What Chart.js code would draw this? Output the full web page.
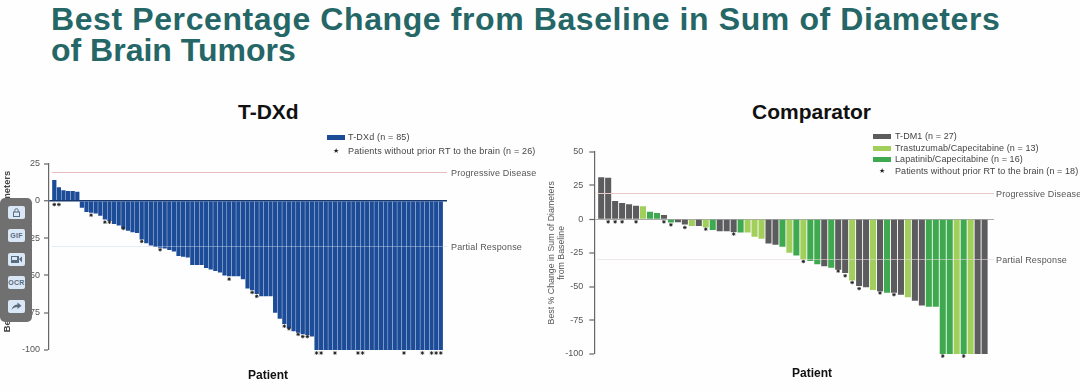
<!DOCTYPE html>
<html>
<head>
<meta charset="utf-8">
<script src="https://cdn.jsdelivr.net/npm/chart.js@4"></script>
<style>
html,body{margin:0;padding:0;background:#fefefe}
body{width:1080px;height:392px;position:relative;overflow:hidden;font-family:"Liberation Sans",Arial,sans-serif;filter:blur(.4px)}
canvas{position:absolute;top:90px}
#ch-tdxd{left:0}
#ch-comp{left:540px}
.abs{position:absolute;white-space:nowrap}
#title{left:51px;top:4px;font-size:32px;line-height:31px;font-weight:bold;color:#256767}
.panel{font-size:21px;font-weight:bold;color:#111;line-height:24px}
.patient{font-size:12px;font-weight:bold;color:#111;line-height:14px}
.leg{font-size:9px;line-height:12px;color:#444}
.sw{position:absolute;height:5px;width:18px}
.star{position:absolute;font-size:7px;line-height:12px;color:#222}
#tools{left:0;top:198px;width:32px;height:124px;background:#707070;border-radius:5px}
.btn{position:absolute;left:8px;width:17px;height:13px;background:#d9e7f6;border-radius:2px;font-size:7px;line-height:13px;font-weight:bold;text-align:center;color:#5a6c80;letter-spacing:.3px}
.btn svg{position:absolute;left:3px;top:2px}
</style>
</head>
<body>
<div class="abs" id="title"><span style="letter-spacing:.6px">Best Percentage Change from Baseline in Sum of Diameters</span><br>of Brain Tumors</div>
<div class="abs panel" style="left:238px;top:100px">T-DXd</div>
<div class="abs panel" style="left:752px;top:100px">Comparator</div>
<canvas id="ch-tdxd" width="540" height="302"></canvas>
<canvas id="ch-comp" width="540" height="302"></canvas>
<div class="abs patient" style="left:248px;top:368px">Patient</div>
<div class="abs patient" style="left:792px;top:366px">Patient</div>
<div id="legends"></div>
<div class="abs" id="tools">
  <div class="btn" style="top:8px"><svg width="11" height="9" viewBox="0 0 11 9"><rect x="2.5" y="4" width="6" height="4.5" fill="none" stroke="#5a6c80"/><path d="M3.8 4V2.4a1.7 1.7 0 0 1 3.4 0V4" fill="none" stroke="#5a6c80"/></svg></div>
  <div class="btn" style="top:31px">GIF</div>
  <div class="btn" style="top:55px"><svg width="11" height="9" viewBox="0 0 11 9"><rect x="0" y="1" width="8" height="7" fill="#5a6c80"/><path d="M8 4l3-2.5v6z" fill="#5a6c80"/><rect x="1" y="2" width="5" height="3" fill="#d9e7f6"/></svg></div>
  <div class="btn" style="top:78px">OCR</div>
  <div class="btn" style="top:102px"><svg width="11" height="9" viewBox="0 0 11 9"><path d="M6.5 0.5l4 3.2-4 3.2V5C4 5 2 5.800 0.500 8 1 5 3 2.600 6.500 2.400z" fill="#5a6c80"/></svg></div>
</div>
<script>
// T-DXd panel
const tdxdValues = [14,9,7,6.5,6.5,6,-4.7,-7.5,-8,-8.5,-10,-12.5,-13.5,-15.5,-16.5,-18.5,-20,-21,-21.5,-26,-28.5,-30,-31,-31.5,-32,-33,-34,-37,-37.5,-38,-43,-43,-43,-45,-46,-47,-48,-50,-50.5,-50.5,-50.5,-52.5,-58.7,-60,-62.5,-64,-64,-64,-75,-79,-82.5,-85.5,-87.5,-88.5,-89.5,-90,-91,-100,-100,-100,-100,-100,-100,-100,-100,-100,-100,-100,-100,-100,-100,-100,-100,-100,-100,-100,-100,-100,-100,-100,-100,-100,-100,-100,-100];
const tdxdStarPatients = [0,1,8,11,12,15,19,23,38,43,44,50,51,53,54,55,57,58,61,66,67,76,80,82,83,84];
const tdxdStarValues = [-2.5,-2.5,-9.6,-14.3,-14.3,-18.5,-27.2,-32.8,-52.5,-61.4,-64,-84,-85.7,-89.5,-91,-91,-102,-102,-102,-102,-102,-102,-102,-102,-102,-102];
const tdxdTicks = [25,0,-25,-50,-75,-100];
// leading nbsp pulls the title (mostly hidden behind the toolbar) up a little, like the slide
const tdxdYTitle = ['\u00a0\u00a0\u00a0\u00a0Best % Change in Sum of Diameters','from Baseline'];

// Comparator panel
const compValues = [31,30.6,13.5,12,11,10,9.5,5.5,4.5,3,-2.5,-2.3,-4,-5,-5,-6,-8,-9,-9,-9.5,-10,-10,-13,-14.5,-18,-19,-20.5,-25,-27,-30,-31,-33.5,-35,-36,-37.5,-40,-45.5,-49.5,-50.5,-52.5,-53.5,-54.5,-54.5,-56,-58,-60.5,-64,-65,-65,-100,-100,-100,-100,-100,-100,-100];
const compArms = ['t','t','t','t','t','t','c','l','l','t','l','t','t','c','t','c','l','t','t','t','l','c','c','c','t','t','l','c','l','c','l','l','t','l','t','t','c','t','t','c','t','l','t','t','c','t','t','l','l','l','l','c','l','c','t','t'];
const compStarPatients = [1,2,3,5,9,10,12,15,19,29,34,35,36,37,40,42,49,52];
const compStarValues = [-2,-2,-2,-2,-2,-4.2,-6.2,-7.4,-11,-31.4,-38.5,-42,-47,-51.5,-54.7,-56,-101.5,-101.5];
const compTicks = [50,25,0,-25,-50,-75,-100];
const compYTitle = ['Best % Change in Sum of Diameters','from Baseline'];

const armColors = {t:'#5c5c5e',c:'#a2cf5c',l:'#3fa950'};
const BLUE = '#1c4b98';

// progressive disease / partial response lines + their labels
const refLines = {
  id:'refLines',
  afterDatasetsDraw(chart,args,o){
    const {ctx,chartArea:a,scales:{y}} = chart;
    ctx.save();
    ctx.lineWidth = 1;
    o.lines.forEach(l=>{
      const py = Math.round(y.getPixelForValue(l.v))+.5;
      ctx.strokeStyle = l.c;
      ctx.beginPath(); ctx.moveTo(a.left+o.inset,py); ctx.lineTo(a.right,py); ctx.stroke();
      ctx.fillStyle = '#555';
      ctx.font = '9px "Liberation Sans"';
      ctx.letterSpacing = '.15px';
      ctx.textBaseline = 'middle';
      ctx.fillText(l.t,a.right+o.gap,py+1);
    });
    ctx.restore();
  }
};

function mkWaterfall(id,p){
  new Chart(document.getElementById(id),{
    type:'bar',
    plugins:[refLines],
    data:{
      datasets:[
        {type:'line',data:p.starX.map((x,i)=>({x,y:p.starY[i]})),showLine:false,pointStyle:'star',pointRadius:1.8,pointBorderWidth:.9,
         borderColor:'#222',backgroundColor:'#222',clip:false,order:0},
        {data:p.values.map((y,x)=>({x,y})),backgroundColor:p.colors,barPercentage:p.barPct,categoryPercentage:1,order:1}
      ]
    },
    options:{
      responsive:false,animation:false,
      layout:{padding:{top:p.top,bottom:p.bottom,right:p.right,left:0}},
      plugins:{legend:{display:false},tooltip:{enabled:false},refLines:{lines:p.lines,inset:p.inset,gap:p.gap}},
      scales:{
        x:{type:'linear',display:false,min:p.xMin,max:p.xMax,offset:false},
        y:{
          min:-100,max:p.ticks[0],
          afterBuildTicks:s=>{s.ticks=p.ticks.map(value=>({value}))},
          afterFit:s=>{s.width=p.axisW},
          border:{color:'#666',width:1.2},
          grid:{color:c=>c.tick&&c.tick.value===0?p.zero:'transparent',lineWidth:c=>c.tick&&c.tick.value===0?p.zeroW:0,
                tickColor:'#666',tickLength:5,tickWidth:1.2},
          ticks:{font:{family:'Liberation Sans',size:9},color:'#555',padding:p.tickPad,autoSkip:false},
          title:{display:true,text:p.yTitle,color:p.titleColor,font:{family:'Liberation Sans',size:p.titleSize,weight:p.titleWeight,lineHeight:1.2},padding:{top:p.titlePad,bottom:0}}
        }
      }
    }
  });
}

mkWaterfall('ch-tdxd',{
  values:tdxdValues,colors:BLUE,starX:tdxdStarPatients,starY:tdxdStarValues,ticks:tdxdTicks,yTitle:tdxdYTitle,
  top:73.5,bottom:42,right:93,axisW:49,xMin:-1.15,xMax:85.35,barPct:.92,
  zero:'#17386f',zeroW:1.5,tickPad:4,titleSize:9.4,titleWeight:'bold',titleColor:'#444',titlePad:1.5,
  inset:3,gap:4,
  lines:[{v:19.3,t:'Progressive Disease',c:'#e6bcbc'},{v:-30.4,t:'Partial Response',c:'rgba(200,215,235,.45)'}]
});
mkWaterfall('ch-comp',{
  values:compValues,colors:compArms.map(a=>armColors[a]),starX:compStarPatients,starY:compStarValues,ticks:compTicks,yTitle:compYTitle,
  top:61.7,bottom:38,right:86,axisW:54.3,xMin:-.99,xMax:56.35,barPct:.87,
  zero:'#aaa',zeroW:1,tickPad:6,titleSize:8.8,titleWeight:'normal',titleColor:'#555',titlePad:6,
  inset:3,gap:2,
  lines:[{v:19.5,t:'Progressive Disease',c:'#e6c8c8'},{v:-29.9,t:'Partial Response',c:'rgba(225,215,215,.6)'}]
});

// legends
const tdxdLegend = [{c:BLUE,t:'T-DXd (n = 85)'},{t:'Patients without prior RT to the brain (n = 26)'}];
const compLegend = [{c:armColors.t,t:'T-DM1 (n = 27)'},{c:armColors.c,t:'Trastuzumab/Capecitabine (n = 13)'},{c:armColors.l,t:'Lapatinib/Capecitabine (n = 16)'},{t:'Patients without prior RT to the brain (n = 18)'}];
function mkLegend(items,swX,txtX,ys,sp){
  const box = document.getElementById('legends');
  items.forEach((it,i)=>{
    const y = ys[i];
    box.innerHTML += it.c
      ? `<div class="sw" style="left:${swX}px;top:${y-2.5}px;background:${it.c}"></div>`
      : `<div class="star" style="left:${swX+6}px;top:${y-6}px">★</div>`;
    box.innerHTML += `<div class="abs leg" style="left:${txtX}px;top:${y-6}px;letter-spacing:${sp}px">${it.t}</div>`;
  });
}
mkLegend(tdxdLegend,327,348,[137,151],.17);
mkLegend(compLegend,873,895,[136,148,159,171],.08);
</script>
</body>
</html>
